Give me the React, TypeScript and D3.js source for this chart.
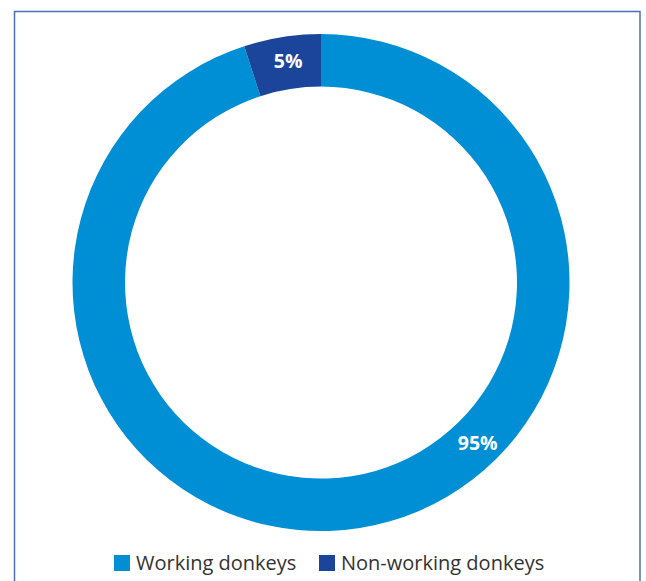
import React from "react";
import * as d3 from "d3";

const categories = ["Working donkeys", "Non-working donkeys"];
const values = [95, 5];
const labels = ["95%", "5%"];
const colors = ["#008fd4", "#1b459b"];

export default function App() {
  const W = 646, H = 581;
  const cx = 321, cy = 282.6;
  const outerR = 248.5, innerR = 196;
  const pie = d3.pie<number>().sort(null).value((d) => d);
  const arcs = pie(values);
  const arc = d3.arc<d3.PieArcDatum<number>>().innerRadius(innerR).outerRadius(outerR);
  const labelR = 224.5;
  // label angles: 5% at its midpoint, 95% placed at lower-right
  const labelAngles = [Math.PI * 0.754, (arcs[1].startAngle + arcs[1].endAngle) / 2 + 0.01];
  return (
    <svg width={W} height={H} style={{ position: "absolute", left: 0, top: 0 }} fontFamily="'Open Sans', 'Noto Sans', sans-serif">
      <rect x={14.5} y={11.5} width={625.5} height={600} fill="#fff" stroke="#4d6fb8" strokeWidth={1.5} />
      <g transform={`translate(${cx},${cy})`}>
        {arcs.map((a, i) => (
          <path key={i} d={arc(a) || ""} fill={colors[i]} />
        ))}
        {labels.map((l, i) => {
          const ang = labelAngles[i];
          return (
            <text key={i} x={Math.sin(ang) * labelR} y={-Math.cos(ang) * labelR} dy="0.36em" textAnchor="middle" fill="#fff" fontWeight="bold" fontSize={19.5}>
              {l}
            </text>
          );
        })}
      </g>
      {categories.map((c, i) => {
        const x = [114, 319][i];
        return (
          <g key={c}>
            <rect x={x} y={555} width={16} height={16} fill={colors[i]} />
            <text x={x + 22} y={570} fontSize={20} fill="#333">{c}</text>
          </g>
        );
      })}
    </svg>
  );
}
